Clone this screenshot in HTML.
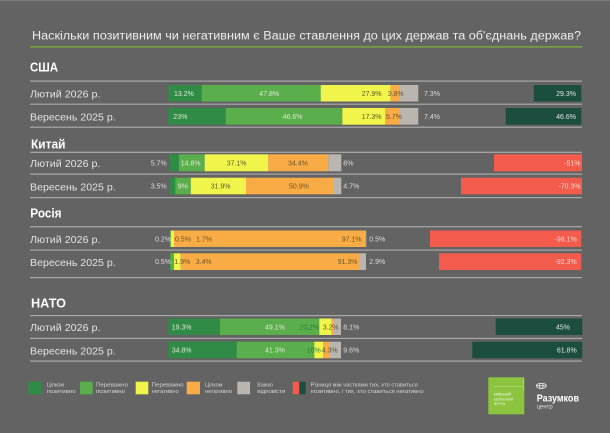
<!DOCTYPE html>
<html><head><meta charset="utf-8"><style>
html,body{margin:0;padding:0;background:#636363;}
svg{display:block;}
text{font-family:"Liberation Sans",sans-serif;}
.t{font-size:7px;}
.lt{fill:#dde9d6;}
.dk{fill:#5a5a2a;}
.og{fill:#6e5326;}
.ou{fill:#dcdcdc;}
.rl{font-size:10px;fill:#e2e2e2;}
.hd{font-size:13px;font-weight:bold;fill:#ffffff;}
.lg{font-size:5.4px;fill:#d4d4d4;}
</style></head><body>
<svg width="610" height="433" viewBox="0 0 610 433" xmlns="http://www.w3.org/2000/svg">
<rect width="610" height="433" fill="#636363"/>
<rect x="0" y="0" width="610" height="1.2" fill="#7a7a7a"/>

<text x="32" y="39.5" font-size="11.5" fill="#ececec" textLength="549" lengthAdjust="spacingAndGlyphs">Наскільки позитивним чи негативним є Ваше ставлення до цих держав та об'єднань держав?</text>
<rect x="30" y="46.2" width="552" height="1.3" fill="#7db332"/>

<!-- separators -->
<g fill="#a9a9a9">
<rect x="30" y="80.5" width="552" height="1.2"/>
<rect x="30" y="103.6" width="552" height="1.2"/>
<rect x="30" y="126.6" width="552" height="1.2"/>
<rect x="30" y="151.7" width="552" height="1.2"/>
<rect x="30" y="173.5" width="552" height="1.2"/>
<rect x="30" y="197" width="552" height="1.2"/>
<rect x="30" y="226.1" width="552" height="1.2"/>
<rect x="30" y="249.5" width="552" height="1.2"/>
<rect x="30" y="277" width="552" height="1.2"/>
<rect x="30" y="315" width="552" height="1.2"/>
<rect x="30" y="337.8" width="552" height="1.2"/>
<rect x="30" y="360.5" width="552" height="1.2"/>
</g>

<!-- headings -->
<text class="hd" x="30" y="71.5" textLength="28" lengthAdjust="spacingAndGlyphs">США</text>
<text class="hd" x="31" y="148.3" textLength="34.5" lengthAdjust="spacingAndGlyphs">Китай</text>
<text class="hd" x="30.3" y="217.3" textLength="31.2" lengthAdjust="spacingAndGlyphs">Росія</text>
<text class="hd" x="31" y="307.3" textLength="35" lengthAdjust="spacingAndGlyphs">НАТО</text>

<!-- row labels -->
<text class="rl" x="30" y="97.3" textLength="70.5" lengthAdjust="spacingAndGlyphs">Лютий 2026 р.</text>
<text class="rl" x="30" y="120.6" textLength="85.7" lengthAdjust="spacingAndGlyphs">Вересень 2025 р.</text>
<text class="rl" x="30" y="167" textLength="70.5" lengthAdjust="spacingAndGlyphs">Лютий 2026 р.</text>
<text class="rl" x="30" y="190.3" textLength="85.7" lengthAdjust="spacingAndGlyphs">Вересень 2025 р.</text>
<text class="rl" x="30" y="243" textLength="70.5" lengthAdjust="spacingAndGlyphs">Лютий 2026 р.</text>
<text class="rl" x="30" y="266" textLength="85.7" lengthAdjust="spacingAndGlyphs">Вересень 2025 р.</text>
<text class="rl" x="30" y="331" textLength="70.5" lengthAdjust="spacingAndGlyphs">Лютий 2026 р.</text>
<text class="rl" x="30" y="354.3" textLength="85.7" lengthAdjust="spacingAndGlyphs">Вересень 2025 р.</text>

<!-- USA bars -->
<g>
<rect x="168.3" y="85" width="33.4" height="16.5" fill="#2f8b45"/>
<rect x="201.7" y="85" width="119" height="16.5" fill="#5aae4c"/>
<rect x="320.7" y="85" width="70" height="16.5" fill="#f1f54b"/>
<rect x="390.7" y="85" width="9.3" height="16.5" fill="#f9ac45"/>
<rect x="400" y="85" width="18.3" height="16.5" fill="#bbb5af"/>
<rect x="168.3" y="108" width="57.4" height="16.7" fill="#2f8b45"/>
<rect x="225.7" y="108" width="116.6" height="16.7" fill="#5aae4c"/>
<rect x="342.3" y="108" width="42.7" height="16.7" fill="#f1f54b"/>
<rect x="385" y="108" width="14.5" height="16.7" fill="#f9ac45"/>
<rect x="399.5" y="108" width="18.8" height="16.7" fill="#bbb5af"/>
</g>
<text class="t lt" x="174" y="95.8">13.2%</text>
<text class="t lt" x="259.3" y="95.8">47.8%</text>
<text class="t dk" x="361.7" y="95.8">27.9%</text>
<text class="t og" x="387.7" y="95.8">3.8%</text>
<text class="t ou" x="424" y="95.8">7.3%</text>
<text class="t lt" x="173.3" y="119">23%</text>
<text class="t lt" x="282.7" y="119">46.6%</text>
<text class="t dk" x="361.7" y="119">17.3%</text>
<text class="t og" x="386" y="119">5.7%</text>
<text class="t ou" x="424" y="119">7.4%</text>
<rect x="533.7" y="85" width="47.6" height="16.5" fill="#1b4e3e"/>
<rect x="505.7" y="108" width="75.6" height="16.7" fill="#1b4e3e"/>
<text class="t" x="576" y="95.8" text-anchor="end" fill="#dfe6e2">29.3%</text>
<text class="t" x="576" y="119" text-anchor="end" fill="#dfe6e2">46.6%</text>

<!-- China -->
<rect x="169.3" y="154.3" width="9.7" height="17" fill="#2f8b45"/>
<rect x="179" y="154.3" width="25.7" height="17" fill="#5aae4c"/>
<rect x="204.7" y="154.3" width="63.6" height="17" fill="#f1f54b"/>
<rect x="268.3" y="154.3" width="60" height="17" fill="#f9ac45"/>
<rect x="328.3" y="154.3" width="13" height="17" fill="#bbb5af"/>
<rect x="169.3" y="177.7" width="6" height="16.6" fill="#2f8b45"/>
<rect x="175.3" y="177.7" width="15.5" height="16.6" fill="#5aae4c"/>
<rect x="190.8" y="177.7" width="55.2" height="16.6" fill="#f1f54b"/>
<rect x="246" y="177.7" width="87.5" height="16.6" fill="#f9ac45"/>
<rect x="333.5" y="177.7" width="7.8" height="16.6" fill="#bbb5af"/>
<text class="t ou" x="166.7" y="165.3" text-anchor="end">5.7%</text>
<text class="t lt" x="180.7" y="165.3">14.8%</text>
<text class="t dk" x="226.7" y="165.3">37.1%</text>
<text class="t og" x="288" y="165.3">34.4%</text>
<text class="t ou" x="343.3" y="165.3">8%</text>
<text class="t ou" x="166.7" y="188.5" text-anchor="end">3.5%</text>
<text class="t lt" x="177.7" y="188.5">9%</text>
<text class="t dk" x="210.7" y="188.5">31.9%</text>
<text class="t og" x="289" y="188.5">50.9%</text>
<text class="t ou" x="343.3" y="188.5">4.7%</text>
<rect x="494" y="154.3" width="88" height="17" fill="#f35b4d"/>
<rect x="461" y="177.7" width="121" height="16.6" fill="#f35b4d"/>
<text class="t" x="580.5" y="165.3" text-anchor="end" fill="#ffd6cf">-51%</text>
<text class="t" x="580.5" y="188.5" text-anchor="end" fill="#ffd6cf">-70.3%</text>

<!-- Russia -->
<rect x="169.3" y="230.5" width="0.6" height="16.5" fill="#2f8b45"/>
<rect x="169.9" y="230.5" width="1" height="16.5" fill="#5aae4c"/>
<rect x="170.9" y="230.5" width="3.1" height="16.5" fill="#f1f54b"/>
<rect x="174" y="230.5" width="191.3" height="16.5" fill="#f9ac45"/>
<rect x="365.3" y="230.5" width="1" height="16.5" fill="#bbb5af"/>
<rect x="169.3" y="253.3" width="1.2" height="16.7" fill="#2f8b45"/>
<rect x="170.5" y="253.3" width="3.5" height="16.7" fill="#5aae4c"/>
<rect x="174" y="253.3" width="6.7" height="16.7" fill="#f1f54b"/>
<rect x="180.7" y="253.3" width="179.3" height="16.7" fill="#f9ac45"/>
<rect x="360" y="253.3" width="6" height="16.7" fill="#bbb5af"/>
<text class="t ou" x="155" y="241.3">0.2%</text>
<text class="t og" x="175" y="241.3">0.5%</text>
<text class="t og" x="196" y="241.3">1.7%</text>
<text class="t og" x="341.7" y="241.3">97.1%</text>
<text class="t ou" x="369.3" y="241.3">0.5%</text>
<text class="t ou" x="155" y="264.2">0.5%</text>
<text class="t og" x="174.3" y="264.2">1.9%</text>
<text class="t og" x="195.7" y="264.2">3.4%</text>
<text class="t og" x="337.7" y="264.2">91.3%</text>
<text class="t ou" x="369.3" y="264.2">2.9%</text>
<rect x="430" y="230.5" width="151.3" height="16.5" fill="#f35b4d"/>
<rect x="439" y="253.3" width="142.3" height="16.7" fill="#f35b4d"/>
<text class="t" x="576.7" y="241.3" text-anchor="end" fill="#ffd6cf">-98.1%</text>
<text class="t" x="576.7" y="264.2" text-anchor="end" fill="#ffd6cf">-92.3%</text>

<!-- NATO -->
<rect x="168.3" y="318.5" width="51.7" height="16.5" fill="#2f8b45"/>
<rect x="220" y="318.5" width="99.3" height="16.5" fill="#5aae4c"/>
<rect x="319.3" y="318.5" width="12.4" height="16.5" fill="#f1f54b"/>
<rect x="331.7" y="318.5" width="2.3" height="16.5" fill="#f9ac45"/>
<rect x="334" y="318.5" width="7" height="16.5" fill="#bbb5af"/>
<rect x="168.3" y="341.7" width="68.4" height="16.6" fill="#2f8b45"/>
<rect x="236.7" y="341.7" width="77.6" height="16.6" fill="#5aae4c"/>
<rect x="314.3" y="341.7" width="9" height="16.6" fill="#f1f54b"/>
<rect x="323.3" y="341.7" width="6.7" height="16.6" fill="#f9ac45"/>
<rect x="330" y="341.7" width="11" height="16.6" fill="#bbb5af"/>
<text class="t lt" x="171.7" y="329.3">19.3%</text>
<text class="t lt" x="265" y="329.3">49.1%</text>
<text class="t" x="299.3" y="329.3" fill="#2c7d3c">20,2%</text>
<text class="t dk" x="322.7" y="329.3">3.2%</text>
<text class="t ou" x="343.3" y="329.3">8,1%</text>
<text class="t lt" x="171.7" y="352.5">34.8%</text>
<text class="t lt" x="265" y="352.5">41.3%</text>
<text class="t" x="306.7" y="352.5" fill="#2c7d3c">10%</text>
<text class="t dk" x="321.7" y="352.5">4.3%</text>
<text class="t ou" x="343.3" y="352.5">9.6%</text>
<rect x="495.7" y="318.5" width="86.6" height="16.5" fill="#1b4e3e"/>
<rect x="472.3" y="341.7" width="110" height="16.6" fill="#1b4e3e"/>
<text class="t" x="570" y="329.3" text-anchor="end" fill="#dfe6e2">45%</text>
<text class="t" x="576.7" y="352.5" text-anchor="end" fill="#dfe6e2">61.8%</text>

<!-- legend -->
<rect x="28.3" y="381.7" width="12.7" height="12.6" fill="#2f8b45"/>
<text class="lg" x="46.7" y="386.3">Цілком</text>
<text class="lg" x="46.7" y="392.8" textLength="29" lengthAdjust="spacingAndGlyphs">позитивно</text>
<rect x="80" y="381.7" width="12.7" height="12.6" fill="#5aae4c"/>
<text class="lg" x="96" y="386.3" textLength="32" lengthAdjust="spacingAndGlyphs">Переважно</text>
<text class="lg" x="96" y="392.8" textLength="29" lengthAdjust="spacingAndGlyphs">позитивно</text>
<rect x="135.7" y="381.7" width="12.6" height="12.6" fill="#f1f54b"/>
<text class="lg" x="151.7" y="386.3" textLength="32" lengthAdjust="spacingAndGlyphs">Переважно</text>
<text class="lg" x="151.7" y="392.8" textLength="27" lengthAdjust="spacingAndGlyphs">негативно</text>
<rect x="186.7" y="381.7" width="13.3" height="12.6" fill="#f9ac45"/>
<text class="lg" x="205" y="386.3">Цілком</text>
<text class="lg" x="205" y="392.8" textLength="27" lengthAdjust="spacingAndGlyphs">негативно</text>
<rect x="237.3" y="381.7" width="12.7" height="12.6" fill="#bbb5af"/>
<text class="lg" x="257.3" y="386.3">Важко</text>
<text class="lg" x="257.3" y="392.8" textLength="28" lengthAdjust="spacingAndGlyphs">відповісти</text>
<rect x="292.7" y="381.7" width="6.6" height="12.6" fill="#f35b4d"/>
<rect x="299.3" y="381.7" width="6.4" height="12.6" fill="#1b4e3e"/>
<text class="lg" x="310.7" y="386.3" textLength="107" lengthAdjust="spacingAndGlyphs">Різниця між частками тих, хто ставиться</text>
<text class="lg" x="310.7" y="392.8" textLength="113" lengthAdjust="spacingAndGlyphs">позитивно, і тих, хто ставиться негативно</text>

<!-- logos -->
<rect x="488.3" y="377.3" width="36" height="37" fill="#8cc43f"/>
<rect x="494" y="386.3" width="29.5" height="0.6" fill="#b8de82"/>
<rect x="523" y="379" width="0.6" height="12" fill="#b8de82"/>
<text x="494" y="395.5" font-size="3.8" fill="#ffffff" textLength="17" lengthAdjust="spacingAndGlyphs">КИЇВСЬКИЙ</text>
<text x="494" y="400.3" font-size="3.8" fill="#f0f7e6" textLength="19" lengthAdjust="spacingAndGlyphs">БЕЗПЕКОВИЙ</text>
<text x="494" y="405" font-size="3.8" fill="#f0f7e6" textLength="11" lengthAdjust="spacingAndGlyphs">ФОРУМ</text>
<g fill="none" stroke="#ffffff" stroke-width="0.7">
<ellipse cx="541.3" cy="385.8" rx="5" ry="2.6"/>
<line x1="536.3" y1="385.8" x2="546.3" y2="385.8"/>
<ellipse cx="541.3" cy="385.8" rx="1.8" ry="2.6"/>
</g>
<text x="536.7" y="401.7" font-size="10" font-weight="bold" fill="#ffffff" textLength="42.3" lengthAdjust="spacingAndGlyphs">Разумков</text>
<text x="536.7" y="408.3" font-size="6" fill="#dcdcdc" textLength="16" lengthAdjust="spacingAndGlyphs">центр</text>
</svg>
</body></html>
